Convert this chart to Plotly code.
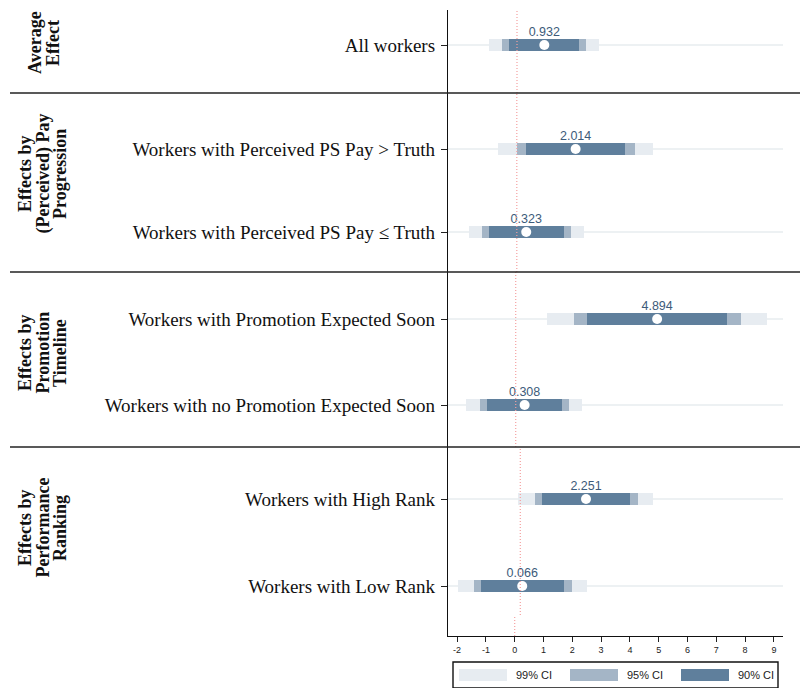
import plotly.graph_objects as go

# ---- data -------------------------------------------------------------
group_titles = [
    ["Average", "Effect"],
    ["Effects by", "(Perceived) Pay", "Progression"],
    ["Effects by", "Promotion", "Timeline"],
    ["Effects by", "Performance", "Ranking"],
]
row_labels = [
    ["All workers"],
    ["Workers with Perceived PS Pay > Truth", "Workers with Perceived PS Pay \u2264 Truth"],
    ["Workers with Promotion Expected Soon", "Workers with no Promotion Expected Soon"],
    ["Workers with High Rank", "Workers with Low Rank"],
]
estimates = [
    [0.932],
    [2.014, 0.323],
    [4.894, 0.308],
    [2.251, 0.066],
]
ci99_lo = [[-0.96], [-0.65, -1.65], [1.08, -1.72], [-0.07, -2.12]]
ci99_hi = [[2.79], [4.67, 2.31], [8.70, 2.31], [4.56, 2.29]]
ci95_lo = [[-0.50], [-0.01, -1.18], [2.00, -1.25], [0.49, -1.60]]
ci95_hi = [[2.34], [4.04, 1.84], [7.80, 1.84], [4.02, 1.77]]
ci90_lo = [[-0.27], [0.31, -0.94], [2.46, -1.00], [0.76, -1.34]]
ci90_hi = [[2.12], [3.71, 1.60], [7.32, 1.60], [3.74, 1.51]]
x_ticks = list(range(-2, 10))
ci_names = ["99% CI", "95% CI", "90% CI"]

# ---- styling / layout geometry (pixels on an 800x688 canvas) ---------
W, H = 800, 688
C99, C95, C90 = "#e7ecf1", "#a4b5c6", "#5f7f9c"
LABEL_C = "#3d5b7a"
ZERO_C = "#f4a0a0"
SERIF = "Liberation Serif"
SANS = "Liberation Sans"

PLOT_L, PLOT_R = 448, 783
panel_top = [10, 93, 272, 447]
panel_bot = [93, 272, 447, 615]
row_px = [[45], [149, 232], [319, 405], [499, 586]]
row_step = [85, 83, 86, 87]
x_ranges = [[-2.355, 9.078], [-2.356, 9.116], [-2.343, 9.249], [-2.476, 8.997]]
axis_range = [-2.316, 9.316]
strip_top, strip_bot = 615, 636
BAR_PX = 12
LABEL_UP_PX = 12.5


def px(x):
    return x / W


def py(y):
    return 1 - y / H


fig = go.Figure()
layout = dict(
    width=W, height=H, margin=dict(l=0, r=0, t=0, b=0),
    plot_bgcolor="white", paper_bgcolor="white",
    barmode="overlay", showlegend=False, bargap=0,
)
shapes = []
annotations = []
zero_line = dict(color=ZERO_C, width=1.2, dash="1px,2px")

for p in range(4):
    k = "" if p == 0 else str(p + 1)
    xa, ya = "x" + k, "y" + k
    n = len(estimates[p])
    rows = list(range(n))
    step = row_step[p]
    top_val = (panel_top[p] - row_px[p][0]) / step
    bot_val = (panel_bot[p] - row_px[p][0]) / step
    bw = BAR_PX / step

    for lo, hi, col in ((ci99_lo, ci99_hi, C99), (ci95_lo, ci95_hi, C95), (ci90_lo, ci90_hi, C90)):
        fig.add_trace(go.Bar(
            orientation="h", y=rows,
            x=[h - l for l, h in zip(lo[p], hi[p])], base=lo[p],
            width=bw, marker=dict(color=col, line=dict(width=0)),
            xaxis=xa, yaxis=ya, hoverinfo="skip",
        ))
    fig.add_trace(go.Scatter(
        x=estimates[p], y=rows, mode="markers",
        marker=dict(color="white", size=10, line=dict(width=0)),
        xaxis=xa, yaxis=ya, hoverinfo="skip",
    ))
    fig.add_trace(go.Scatter(
        x=estimates[p], y=[r - LABEL_UP_PX / step for r in rows], mode="text",
        text=[f"{v:.3f}" for v in estimates[p]], textposition="middle center",
        textfont=dict(family=SANS, size=12.5, color=LABEL_C),
        xaxis=xa, yaxis=ya, hoverinfo="skip",
    ))

    dom_y = [py(panel_bot[p]), py(panel_top[p])]
    layout["xaxis" + k] = dict(
        domain=[px(PLOT_L), px(PLOT_R)], range=x_ranges[p], anchor=ya,
        visible=False, fixedrange=True,
    )
    layout["yaxis" + k] = dict(
        domain=dom_y, range=[bot_val, top_val], anchor=xa,
        tickvals=rows, ticktext=row_labels[p],
        ticks="outside", ticklen=6, tickwidth=1.2, tickcolor="#222",
        showline=True, linecolor="#111", linewidth=1.3,
        showgrid=True, gridcolor="#edf1f3", gridwidth=1.5,
        zeroline=False, tickfont=dict(family=SERIF, size=19, color="#111"),
        ticklabelstandoff=2,
    )
    # reference line at zero
    shapes.append(dict(
        type="line", xref=xa, yref=ya + " domain", x0=0, x1=0, y0=0, y1=1,
        line=zero_line, layer="above",
    ))

# bottom strip carrying the visible x axis
layout["xaxis5"] = dict(
    domain=[px(PLOT_L), px(PLOT_R)], range=axis_range, anchor="y5",
    tickvals=x_ticks, ticktext=[str(t) for t in x_ticks],
    ticks="outside", ticklen=5, tickwidth=1.1, tickcolor="#222",
    showline=True, linecolor="#111", linewidth=1.3, showgrid=False, zeroline=False,
    tickfont=dict(family=SANS, size=9, color="#222"), fixedrange=True,
)
layout["yaxis5"] = dict(
    domain=[py(strip_bot), py(strip_top)], range=[0, 1], anchor="x5",
    showline=True, linecolor="#111", linewidth=1.3, showticklabels=False,
    ticks="", showgrid=False, zeroline=False,
)
fig.add_trace(go.Scatter(x=[None], y=[None], xaxis="x5", yaxis="y5"))
shapes.append(dict(
    type="line", xref="x5", yref="y5 domain", x0=0, x1=0, y0=0, y1=1,
    line=zero_line, layer="above",
))

# separators between groups
for yy in panel_top[1:]:
    shapes.append(dict(
        type="line", xref="paper", yref="paper", x0=px(10), x1=1, y0=py(yy), y1=py(yy),
        line=dict(color="#222", width=1.6),
    ))

# group titles (rotated, one annotation per line for tight leading)
title_y = [43, 174, 353, 528]
line_x = [[35, 53], [25, 42.5, 60], [25, 42.5, 60], [25, 42.5, 60]]
for lines, ty, xs in zip(group_titles, title_y, line_x):
    for ln, tx in zip(lines, xs):
        annotations.append(dict(
            text=f"<b>{ln}</b>", xref="paper", yref="paper", x=px(tx), y=py(ty),
            xanchor="center", yanchor="middle", textangle=-90, showarrow=False,
            font=dict(family=SERIF, size=18, color="#111"),
        ))

# legend box
shapes.append(dict(
    type="rect", xref="paper", yref="paper", x0=px(453), x1=px(778), y0=py(688), y1=py(662),
    line=dict(color="#111", width=1.4), fillcolor="white",
))
legend_x = [459, 570, 681]
for lx, col, name in zip(legend_x, (C99, C95, C90), ci_names):
    shapes.append(dict(
        type="rect", xref="paper", yref="paper", x0=px(lx), x1=px(lx + 48),
        y0=py(681), y1=py(669), line=dict(width=0), fillcolor=col,
    ))
    annotations.append(dict(
        text=name, xref="paper", yref="paper", x=px(lx + 55), y=py(675),
        xanchor="left", yanchor="middle", showarrow=False,
        font=dict(family=SANS, size=11, color="#222"),
    ))

layout["shapes"] = shapes
layout["annotations"] = annotations
fig.update_layout(**layout)
fig.write_html("out.html")
